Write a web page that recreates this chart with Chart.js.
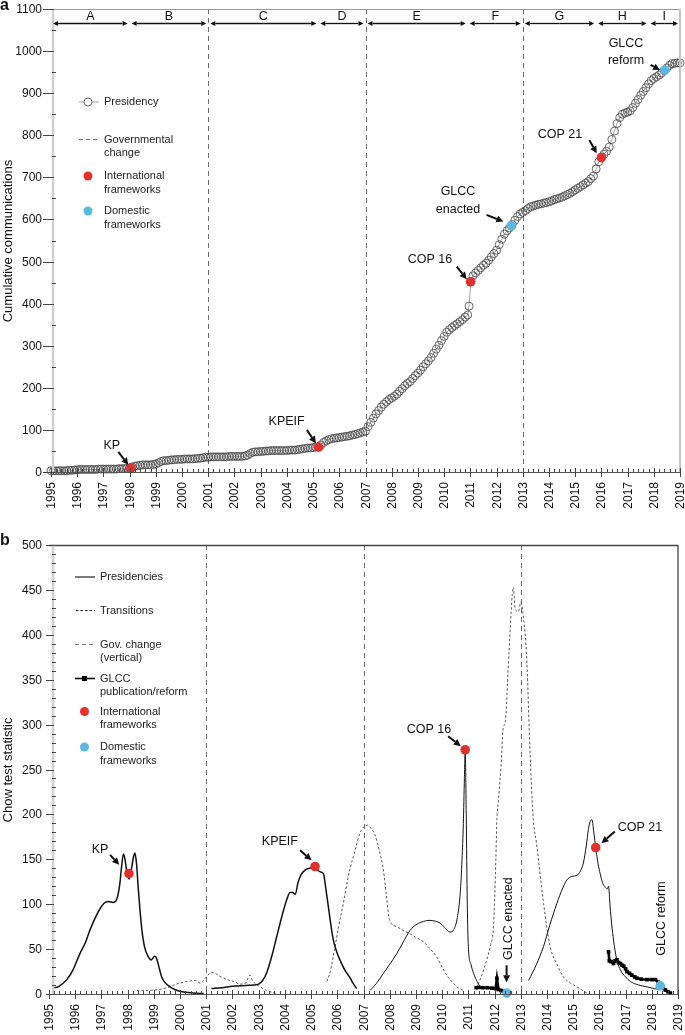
<!DOCTYPE html>
<html>
<head>
<meta charset="utf-8">
<script src="https://cdn.jsdelivr.net/npm/chart.js@4.4.0/dist/chart.umd.min.js"></script>
<style>
body { margin: 0; background: #fff; }
#wrap { position: relative; width: 685px; height: 1035px; }
canvas { position: absolute; left: 0; }
#chartA { top: 0; }
#chartB { top: 515px; }
</style>
</head>
<body>
<div id="wrap">
<canvas id="chartA" width="685" height="512"></canvas>
<canvas id="chartB" width="685" height="520"></canvas>
</div>
<script>
// ---- data (panel a) : [year, cumulative communications]
const commPoints = [
[1995.0,3],[1995.1,3],[1995.2,3],[1995.3,3],[1995.4,3],[1995.5,3],[1995.6,3],[1995.7,4],[1995.8,4],[1995.9,5],
[1996.0,5],[1996.1,6],[1996.2,6],[1996.3,6],[1996.4,6],[1996.5,6],[1996.6,6],[1996.7,6],[1996.8,7],[1996.9,7],
[1997.0,7],[1997.1,7],[1997.2,7],[1997.3,7],[1997.4,7],[1997.5,7],[1997.6,8],[1997.7,8],[1997.8,8],[1997.9,9],
[1998.0,10],[1998.1,12],[1998.2,14],[1998.3,15],[1998.4,16],[1998.5,17],[1998.6,17],[1998.7,17],[1998.8,17],[1998.9,18],
[1999.0,19],[1999.1,22],[1999.2,25],[1999.3,27],[1999.4,27],[1999.5,28],[1999.6,29],[1999.7,29],[1999.8,30],[1999.9,30],
[2000.0,30],[2000.1,31],[2000.2,31],[2000.3,31],[2000.4,31],[2000.5,32],[2000.6,32],[2000.7,33],[2000.8,34],[2000.9,35],
[2001.0,35],[2001.1,36],[2001.2,36],[2001.3,36],[2001.4,36],[2001.5,36],[2001.6,36],[2001.7,36],[2001.8,37],[2001.9,37],
[2002.0,37],[2002.1,37],[2002.2,37],[2002.3,37],[2002.4,38],[2002.5,40],[2002.6,44],[2002.7,47],[2002.8,48],[2002.9,48],
[2003.0,49],[2003.1,49],[2003.2,50],[2003.3,50],[2003.4,51],[2003.5,51],[2003.6,51],[2003.7,51],[2003.8,51],[2003.9,51],
[2004.0,51],[2004.1,52],[2004.2,52],[2004.3,52],[2004.4,53],[2004.5,54],[2004.6,55],[2004.7,56],[2004.8,57],[2004.9,57],
[2005.0,58],[2005.1,59],[2005.3,64],[2005.4,70],[2005.5,74],[2005.6,77],[2005.7,79],[2005.8,80],[2005.9,81],
[2006.0,82],[2006.1,83],[2006.2,84],[2006.3,85],[2006.4,86],[2006.5,88],[2006.6,89],[2006.7,91],[2006.8,93],[2006.9,95],
[2007.0,97],[2007.1,108],[2007.2,118],[2007.3,128],[2007.4,138],[2007.5,146],[2007.6,154],[2007.7,161],[2007.8,167],[2007.9,172],
[2008.0,176],[2008.1,180],[2008.2,185],[2008.3,192],[2008.4,198],[2008.5,205],[2008.6,210],[2008.7,215],[2008.8,222],[2008.9,229],
[2009.0,235],[2009.1,242],[2009.2,250],[2009.3,257],[2009.4,264],[2009.5,272],[2009.6,282],[2009.7,292],[2009.8,301],[2009.9,312],
[2010.0,322],[2010.1,332],[2010.2,338],[2010.3,343],[2010.4,348],[2010.5,352],[2010.6,357],[2010.7,362],[2010.8,368],[2010.9,373],
[2010.95,394],[2011.02,452],[2011.1,466],[2011.2,473],[2011.3,479],[2011.4,485],[2011.5,491],[2011.6,496],[2011.7,503],[2011.8,511],[2011.9,519],
[2012.0,527],[2012.1,540],[2012.2,553],[2012.3,565],[2012.4,573],[2012.5,580],[2012.6,588],[2012.7,598],[2012.8,607],[2012.9,613],
[2013.0,617],[2013.1,621],[2013.2,626],[2013.3,630],[2013.4,632],[2013.5,634],[2013.6,636],[2013.7,637],[2013.8,639],[2013.9,640],
[2014.0,642],[2014.1,644],[2014.2,647],[2014.3,649],[2014.4,651],[2014.5,653],[2014.6,656],[2014.7,659],[2014.8,662],[2014.9,666],
[2015.0,670],[2015.1,674],[2015.2,678],[2015.3,682],[2015.4,686],[2015.5,690],[2015.6,697],[2015.7,703],[2015.8,720],[2015.9,737],
[2016.0,748],[2016.1,755],[2016.2,762],[2016.3,772],[2016.4,790],[2016.5,810],[2016.6,828],[2016.7,842],[2016.8,850],[2016.9,853],
[2017.0,855],[2017.1,858],[2017.2,866],[2017.3,876],[2017.4,885],[2017.5,895],[2017.6,904],[2017.7,913],[2017.8,922],[2017.9,930],
[2018.0,935],[2018.1,939],[2018.2,943],[2018.3,948],[2018.4,954],[2018.5,960],[2018.6,966],[2018.7,970],[2018.8,971],[2018.9,972],
[2019.0,972],[2019.1,972]
];
const intlTop = [[1998.05,9],[2005.21,59],[2011.01,452],[2016.0,747]];
const domTop = [[2012.57,585],[2018.42,955]];

const periodNames = ['A', 'B', 'C', 'D', 'E', 'F', 'G', 'H', 'I'];
const periodEdges = [1995, 1998, 2001, 2005.2, 2007, 2010.9, 2013, 2015.8, 2017.8, 2019];
const govChangeYears = [2001, 2007, 2013];

// ---- data (panel b) : [year, Chow test statistic]
const presidency1 = [
[1995.2,7],[1995.35,8],[1995.68,16],[1995.9,26],[1996.18,45],[1996.4,58],[1996.56,71],[1996.75,84],[1996.95,95],
[1997.1,101],[1997.25,103],[1997.45,102],[1997.6,107],[1997.7,122],[1997.77,142],[1997.84,156],[1997.9,150],
[1997.98,134],[1998.06,128],[1998.15,140],[1998.22,152],[1998.28,157],[1998.34,145],[1998.4,120],[1998.47,94],
[1998.55,70],[1998.65,52],[1998.78,42],[1998.9,38],[1999.03,42],[1999.1,40],[1999.17,33],[1999.3,19],[1999.45,12],
[1999.62,8],[1999.8,5],[2000.0,3],[2000.5,1],[2000.9,0.5]
];
const presidency2 = [
[2001.2,6],[2001.6,7],[2002.0,8.5],[2002.5,9.5],[2002.8,10],[2003.0,11],[2003.15,15],[2003.3,23],[2003.5,42],
[2003.69,64],[2003.9,88],[2004.07,105],[2004.2,113],[2004.3,113],[2004.4,111],[2004.5,124],[2004.62,133],
[2004.77,138],[2004.95,140],[2005.1,141],[2005.25,138],[2005.35,136],[2005.47,134],[2005.56,118],[2005.66,97],
[2005.75,78],[2005.85,60],[2006.0,45],[2006.1,38],[2006.3,26],[2006.49,18],[2006.6,12],[2006.74,6]
];
const presidency3 = [
[2007.25,4],[2007.5,12],[2007.76,23],[2008.0,33],[2008.27,45],[2008.5,57],[2008.78,71],[2009.0,77],[2009.2,80],
[2009.54,82],[2009.75,81],[2009.92,79],[2010.1,74],[2010.3,69],[2010.45,72],[2010.58,85],[2010.69,112],
[2010.76,150],[2010.81,190],[2010.85,240],[2010.88,272],[2010.92,200],[2010.96,100],[2011.0,53],[2011.1,33],
[2011.2,23],[2011.35,13],[2011.45,8]
];
const presidency4 = [
[2013.3,15],[2013.6,33],[2013.87,53],[2014.1,76],[2014.38,101],[2014.6,118],[2014.76,127],[2014.95,131],
[2015.14,132],[2015.28,137],[2015.39,146],[2015.5,165],[2015.58,183],[2015.66,193],[2015.72,194],[2015.78,182],
[2015.86,163],[2015.95,145],[2016.03,134],[2016.12,124],[2016.22,119],[2016.3,117],[2016.35,120],[2016.41,97],
[2016.47,78],[2016.54,60],[2016.65,40],[2016.8,27],[2017.0,19],[2017.18,14],[2017.5,10],[2017.81,8],[2018.1,6],
[2018.45,4.5],[2018.7,1]
];
const transition1 = [
[1998.35,4],[1998.8,4],[1999.2,5],[1999.5,7],[1999.87,11],[2000.26,14],[2000.6,15],[2000.79,12],[2000.95,17],
[2001.1,22],[2001.26,24],[2001.5,20],[2001.8,16],[2002.04,14],[2002.3,11],[2002.5,12],[2002.6,18],[2002.67,21],
[2002.75,16],[2002.85,12],[2003.0,9],[2003.3,4],[2003.5,2],[2003.7,0]
];
const transition2 = [
[2005.6,14],[2005.73,25],[2005.9,50],[2006.05,75],[2006.23,101],[2006.45,135],[2006.68,160],[2006.85,178],
[2007.0,186],[2007.15,188],[2007.3,184],[2007.44,177],[2007.6,160],[2007.76,138],[2007.88,108],[2008.0,82],
[2008.27,75],[2008.5,71],[2008.78,67],[2009.0,63],[2009.29,58],[2009.55,50],[2009.8,41],[2010.05,27],
[2010.25,18],[2010.43,12],[2010.6,7],[2010.81,4]
];
const transition3 = [
[2011.3,6],[2011.5,20],[2011.7,38],[2011.85,55],[2011.96,75],[2012.05,150],[2012.09,194],[2012.15,216],
[2012.25,255],[2012.34,298],[2012.4,301],[2012.55,380],[2012.72,453],[2012.79,428],[2012.91,426],[2013.0,436],
[2013.1,420],[2013.23,372],[2013.36,265],[2013.48,194],[2013.6,168],[2013.87,101],[2014.12,53],[2014.4,32],
[2014.63,19],[2014.9,12],[2015.14,8],[2015.52,1]
];
const glcc1 = [
[2011.3,7],[2011.4,7.4],[2011.55,7],[2011.72,7],[2011.9,6.5],[2012.04,6],[2012.09,17.5],[2012.15,5],[2012.25,4],
[2012.34,3],[2012.47,1],[2012.6,1]
];
const glcc2 = [
[2016.35,47],[2016.38,37],[2016.45,36],[2016.54,34],[2016.6,37],[2016.67,38],[2016.73,35],[2016.8,34],[2016.87,32],
[2016.93,31],[2017.0,28],[2017.05,25],[2017.15,23],[2017.24,21],[2017.35,19],[2017.44,17.5],[2017.6,16.5],
[2017.82,16],[2018.0,16],[2018.14,16],[2018.25,13],[2018.33,9],[2018.42,7],[2018.52,4.5],[2018.62,2.5],[2018.71,1]
];
const intlBottom = [[1998.05,134],[2005.15,142],[2010.88,272],[2015.86,163]];
const domBottom = [[2012.47,1],[2018.32,9]];

// annotation text + arrows, placed in data units
const notesTop = [
    { lines: ['KP'], x: 1997.32, y: 64, from: [1997.57, 48], to: [1997.95, 17] },
    { lines: ['KPEIF'], x: 2003.99, y: 120, from: [2004.76, 100], to: [2005.11, 68] },
    { lines: ['COP 16'], x: 2009.46, y: 504, from: [2010.48, 488], to: [2010.86, 458] },
    { lines: ['GLCC', 'enacted'], x: 2010.53, y: 666, from: [2011.62, 611], to: [2012.26, 595] },
    { lines: ['COP 21'], x: 2014.42, y: 801, from: [2015.54, 789], to: [2015.82, 757] },
    { lines: ['GLCC', 'reform'], x: 2016.94, y: 1018, from: [2017.88, 967], to: [2018.24, 955] }
];
const notesBottom = [
    { lines: ['KP'], x: 1996.95, y: 161, from: [1997.33, 155], to: [1997.68, 144] },
    { lines: ['KPEIF'], x: 2003.81, y: 170, from: [2004.58, 160], to: [2005.02, 149] },
    { lines: ['COP 16'], x: 2009.5, y: 295, from: [2010.23, 287], to: [2010.71, 276] },
    { lines: ['COP 21'], x: 2017.55, y: 185, from: [2016.59, 181], to: [2016.08, 168] },
    { lines: ['GLCC enacted'], x: 2012.52, y: 84, rotate: true, from: [2012.46, 32], to: [2012.46, 13] },
    { lines: ['GLCC reform'], x: 2018.38, y: 84, rotate: true }
];

var FONT = '"Liberation Sans", Arial, sans-serif';
var RED = '#e2302c';
var BLUE = '#5bb8e0';
var INK = '#111';

function toXY(pairs) {
    return pairs.map(function (p) { return { x: p[0], y: p[1] }; });
}

function drawArrow(ctx, x1, y1, x2, y2, hl, hw, lw) {
    var ang = Math.atan2(y2 - y1, x2 - x1);
    var bx = x2 - hl * Math.cos(ang), by = y2 - hl * Math.sin(ang);
    ctx.strokeStyle = INK;
    ctx.fillStyle = INK;
    ctx.lineWidth = lw;
    ctx.beginPath();
    ctx.moveTo(x1, y1);
    ctx.lineTo(bx, by);
    ctx.stroke();
    ctx.beginPath();
    ctx.moveTo(x2, y2);
    ctx.lineTo(bx - hw * Math.sin(ang), by + hw * Math.cos(ang));
    ctx.lineTo(bx + hw * Math.sin(ang), by - hw * Math.cos(ang));
    ctx.closePath();
    ctx.fill();
}

function drawNotes(chart, notes) {
    var ctx = chart.ctx, xs = chart.scales.x, ys = chart.scales.y;
    ctx.save();
    notes.forEach(function (n) {
        var tx = xs.getPixelForValue(n.x), ty = ys.getPixelForValue(n.y);
        ctx.font = '12.5px ' + FONT;
        ctx.fillStyle = INK;
        ctx.textAlign = 'center';
        ctx.textBaseline = 'middle';
        if (n.rotate) {
            ctx.save();
            ctx.translate(tx, ty);
            ctx.rotate(-Math.PI / 2);
            ctx.fillText(n.lines[0], 0, 0);
            ctx.restore();
        } else {
            n.lines.forEach(function (t, i) { ctx.fillText(t, tx, ty + i * 17.5); });
        }
        if (n.from) {
            drawArrow(ctx, xs.getPixelForValue(n.from[0]), ys.getPixelForValue(n.from[1]),
                xs.getPixelForValue(n.to[0]), ys.getPixelForValue(n.to[1]), 7, 3.5, 2);
        }
    });
    ctx.restore();
}

function drawAxes(chart, cfg) {
    var ctx = chart.ctx, a = chart.chartArea, xs = chart.scales.x, ys = chart.scales.y;
    ctx.save();

    // frame: top + right
    ctx.strokeStyle = cfg.frameColor;
    ctx.lineWidth = cfg.frameWidth;
    ctx.beginPath();
    ctx.moveTo(cfg.frameLeft, a.top + 0.5);
    ctx.lineTo(a.right, a.top + 0.5);
    ctx.stroke();
    ctx.strokeStyle = cfg.rightColor;
    ctx.lineWidth = cfg.rightWidth;
    ctx.beginPath();
    ctx.moveTo(a.right, a.top);
    ctx.lineTo(a.right, a.bottom);
    ctx.stroke();

    // y axis band
    ctx.strokeStyle = '#d0d0d0';
    ctx.lineWidth = 2.5;
    ctx.beginPath();
    ctx.moveTo(cfg.yAxisX, a.top);
    ctx.lineTo(cfg.yAxisX, a.bottom);
    ctx.stroke();

    // x axis line
    ctx.strokeStyle = '#555';
    ctx.lineWidth = 1;
    ctx.beginPath();
    ctx.moveTo(a.left, a.bottom + 0.5);
    ctx.lineTo(a.right, a.bottom + 0.5);
    ctx.stroke();

    // x ticks + labels
    ctx.font = '12px ' + FONT;
    ctx.fillStyle = INK;
    for (var yr = 1995; yr <= 2019; yr++) {
        var px = Math.round(xs.getPixelForValue(yr)) + 0.5;
        ctx.strokeStyle = '#444';
        ctx.lineWidth = 1;
        ctx.beginPath();
        ctx.moveTo(px, a.bottom - 4);
        ctx.lineTo(px, a.bottom + 5);
        ctx.stroke();
        if (yr < 2019) {
            for (var k = 1; k < 5; k++) {
                var mx = Math.round(xs.getPixelForValue(yr + k * 0.2)) + 0.5;
                ctx.beginPath();
                ctx.moveTo(mx, a.bottom - 3);
                ctx.lineTo(mx, a.bottom);
                ctx.stroke();
            }
        }
        ctx.save();
        ctx.translate(px, a.bottom + 10);
        ctx.rotate(-Math.PI / 2);
        ctx.textAlign = 'right';
        ctx.textBaseline = 'middle';
        ctx.fillText(String(yr), 0, 0);
        ctx.restore();
    }

    // y ticks + labels
    ctx.textAlign = 'right';
    ctx.textBaseline = 'middle';
    for (var v = 0; v <= cfg.yMax; v += cfg.yMinor) {
        var py = Math.round(ys.getPixelForValue(v)) + 0.5;
        ctx.strokeStyle = '#444';
        ctx.lineWidth = 1;
        ctx.beginPath();
        if (v % cfg.yMajor === 0) {
            ctx.moveTo(cfg.yAxisX - cfg.majorLen, py);
            ctx.lineTo(cfg.yAxisX + 1, py);
            ctx.stroke();
            ctx.fillText(String(v), 42, py);
        } else {
            ctx.moveTo(cfg.yAxisX - 1, py);
            ctx.lineTo(cfg.yAxisX + 3, py);
            ctx.stroke();
        }
    }

    // axis title
    ctx.save();
    ctx.translate(8, cfg.titleY);
    ctx.rotate(-Math.PI / 2);
    ctx.textAlign = 'center';
    ctx.font = '13px ' + FONT;
    ctx.fillText(cfg.title, 0, 0);
    ctx.restore();

    // panel letter
    ctx.font = 'bold 16px ' + FONT;
    ctx.textAlign = 'left';
    ctx.textBaseline = 'alphabetic';
    ctx.fillText(cfg.letter, 0, cfg.letterY);

    ctx.restore();
}

function drawGovLines(chart) {
    var ctx = chart.ctx, a = chart.chartArea, xs = chart.scales.x;
    ctx.save();
    ctx.strokeStyle = '#6a6a6a';
    ctx.lineWidth = 1;
    ctx.setLineDash([5, 4]);
    govChangeYears.forEach(function (yr) {
        var px = Math.round(xs.getPixelForValue(yr)) + 0.5;
        ctx.beginPath();
        ctx.moveTo(px, a.top);
        ctx.lineTo(px, a.bottom);
        ctx.stroke();
    });
    ctx.restore();
}

function drawPeriods(chart) {
    var ctx = chart.ctx, xs = chart.scales.x;
    var y = 23.5;
    ctx.save();
    ctx.font = '12.5px ' + FONT;
    ctx.textAlign = 'center';
    ctx.textBaseline = 'middle';
    for (var i = 0; i < periodNames.length; i++) {
        var x1 = xs.getPixelForValue(periodEdges[i]) + 2;
        var x2 = xs.getPixelForValue(periodEdges[i + 1]) - 2;
        drawArrow(ctx, (x1 + x2) / 2, y, x1, y, 5, 2.5, 1.3);
        drawArrow(ctx, (x1 + x2) / 2, y, x2, y, 5, 2.5, 1.3);
        ctx.fillStyle = INK;
        ctx.fillText(periodNames[i], (x1 + x2) / 2, 16.5);
    }
    ctx.restore();
}

function legendText(ctx, lines, x, y) {
    ctx.fillStyle = '#222';
    lines.forEach(function (t, i) { ctx.fillText(t, x, y + i * 13.8); });
}

function drawLegendA(ctx) {
    ctx.save();
    ctx.font = '11px ' + FONT;
    ctx.textAlign = 'left';
    ctx.textBaseline = 'middle';
    ctx.strokeStyle = '#888';
    ctx.lineWidth = 0.8;
    ctx.beginPath(); ctx.moveTo(79, 102); ctx.lineTo(99, 102); ctx.stroke();
    ctx.fillStyle = '#fff';
    ctx.strokeStyle = '#444';
    ctx.beginPath(); ctx.arc(88, 102, 4, 0, Math.PI * 2); ctx.fill(); ctx.stroke();
    legendText(ctx, ['Presidency'], 104, 102);

    ctx.strokeStyle = '#777';
    ctx.lineWidth = 1;
    ctx.setLineDash([4, 3]);
    ctx.beginPath(); ctx.moveTo(79, 139.5); ctx.lineTo(99, 139.5); ctx.stroke();
    ctx.setLineDash([]);
    legendText(ctx, ['Governmental', 'change'], 104, 139.5);

    ctx.fillStyle = RED;
    ctx.beginPath(); ctx.arc(88, 176, 4.5, 0, Math.PI * 2); ctx.fill();
    legendText(ctx, ['International', 'frameworks'], 104, 176);

    ctx.fillStyle = BLUE;
    ctx.beginPath(); ctx.arc(88, 211, 4.5, 0, Math.PI * 2); ctx.fill();
    legendText(ctx, ['Domestic', 'frameworks'], 104, 211);
    ctx.restore();
}

function drawLegendB(ctx) {
    ctx.save();
    ctx.font = '11px ' + FONT;
    ctx.textAlign = 'left';
    ctx.textBaseline = 'middle';

    ctx.strokeStyle = '#222';
    ctx.lineWidth = 1.2;
    ctx.beginPath(); ctx.moveTo(75, 62); ctx.lineTo(95, 62); ctx.stroke();
    legendText(ctx, ['Presidencies'], 100, 62);

    ctx.lineWidth = 1;
    ctx.setLineDash([2.5, 2]);
    ctx.beginPath(); ctx.moveTo(76, 95.5); ctx.lineTo(95, 95.5); ctx.stroke();
    legendText(ctx, ['Transitions'], 100, 95.5);

    ctx.strokeStyle = '#777';
    ctx.setLineDash([4, 3]);
    ctx.beginPath(); ctx.moveTo(75, 129.5); ctx.lineTo(95, 129.5); ctx.stroke();
    ctx.setLineDash([]);
    legendText(ctx, ['Gov. change', '(vertical)'], 100, 129.5);

    ctx.strokeStyle = '#111';
    ctx.lineWidth = 1.6;
    ctx.beginPath(); ctx.moveTo(75, 163.5); ctx.lineTo(95, 163.5); ctx.stroke();
    ctx.fillStyle = '#000';
    ctx.fillRect(82, 161, 5, 5);
    legendText(ctx, ['GLCC', 'publication/reform'], 100, 163.5);

    ctx.fillStyle = RED;
    ctx.beginPath(); ctx.arc(84.5, 196.5, 4.5, 0, Math.PI * 2); ctx.fill();
    legendText(ctx, ['International', 'frameworks'], 100, 196.5);

    ctx.fillStyle = BLUE;
    ctx.beginPath(); ctx.arc(84.5, 232, 4.5, 0, Math.PI * 2); ctx.fill();
    legendText(ctx, ['Domestic', 'frameworks'], 100, 232);
    ctx.restore();
}

var panelA = {
    id: 'panelA',
    beforeDatasetsDraw: function (chart) { drawGovLines(chart); },
    afterDraw: function (chart) {
        drawAxes(chart, {
            frameColor: '#999', frameWidth: 1, frameLeft: 48,
            rightColor: '#c4c4c4', rightWidth: 2,
            yAxisX: 53, yMax: 1100, yMajor: 100, yMinor: 50, majorLen: 10,
            title: 'Cumulative communications', titleY: 241,
            letter: 'a', letterY: 10
        });
        drawPeriods(chart);
        drawNotes(chart, notesTop);
        drawLegendA(chart.ctx);
    }
};

var panelB = {
    id: 'panelB',
    beforeDatasetsDraw: function (chart) { drawGovLines(chart); },
    afterDraw: function (chart) {
        drawAxes(chart, {
            frameColor: '#444', frameWidth: 1.3, frameLeft: 49,
            rightColor: '#444', rightWidth: 1.3,
            yAxisX: 53, yMax: 500, yMajor: 50, yMinor: 10, majorLen: 7,
            title: 'Chow test statistic', titleY: 255,
            letter: 'b', letterY: 30
        });
        drawNotes(chart, notesBottom);
        drawLegendB(chart.ctx);
    }
};

function baseOptions(pad, yMax) {
    return {
        responsive: false,
        animation: false,
        devicePixelRatio: 1,
        layout: { padding: pad },
        scales: {
            x: { type: 'linear', min: 1995, max: 2019, display: false },
            y: { type: 'linear', min: 0, max: yMax, display: false }
        },
        plugins: { legend: { display: false }, tooltip: { enabled: false } },
        events: []
    };
}

function dotSet(pairs, color, r) {
    return {
        data: toXY(pairs), showLine: false, pointRadius: r,
        pointBackgroundColor: color, pointBorderWidth: 0, clip: false, order: 0
    };
}

function presSet(pairs, w) {
    return {
        data: toXY(pairs), showLine: true, borderColor: '#111', borderWidth: w,
        pointRadius: 0, cubicInterpolationMode: 'monotone', order: 3
    };
}

function transSet(pairs) {
    return {
        data: toXY(pairs), showLine: true, borderColor: '#444', borderWidth: 0.9,
        borderDash: [2.5, 2], pointRadius: 0, cubicInterpolationMode: 'monotone', order: 4
    };
}

function glccSet(pairs) {
    return {
        data: toXY(pairs), showLine: true, borderColor: '#000', borderWidth: 2.6,
        pointStyle: 'rect', pointRadius: 2.6, pointBackgroundColor: '#000',
        pointBorderWidth: 0, order: 2
    };
}

function initCharts() {
    new Chart(document.getElementById('chartA'), {
        type: 'scatter',
        data: {
            datasets: [
                {
                    data: toXY(commPoints), showLine: true, borderColor: '#8c8c8c', borderWidth: 0.8,
                    pointRadius: 4, pointBorderColor: '#444', pointBorderWidth: 0.8,
                    pointBackgroundColor: 'rgba(0,0,0,0)', clip: false, order: 5
                },
                dotSet(intlTop, RED, 4.8),
                dotSet(domTop, BLUE, 4.8)
            ]
        },
        options: baseOptions({ left: 51, right: 5, top: 9, bottom: 40 }, 1100),
        plugins: [panelA]
    });

    new Chart(document.getElementById('chartB'), {
        type: 'scatter',
        data: {
            datasets: [
                presSet(presidency1, 1.5),
                presSet(presidency2, 1.5),
                presSet(presidency3, 1.0),
                presSet(presidency4, 1.0),
                transSet(transition1),
                transSet(transition2),
                transSet(transition3),
                glccSet(glcc1),
                glccSet(glcc2),
                dotSet(intlBottom, RED, 4.8),
                dotSet(domBottom, BLUE, 4.8)
            ]
        },
        options: baseOptions({ left: 49, right: 7, top: 30, bottom: 41 }, 500),
        plugins: [panelB]
    });
}

initCharts();
</script>
</body>
</html>
